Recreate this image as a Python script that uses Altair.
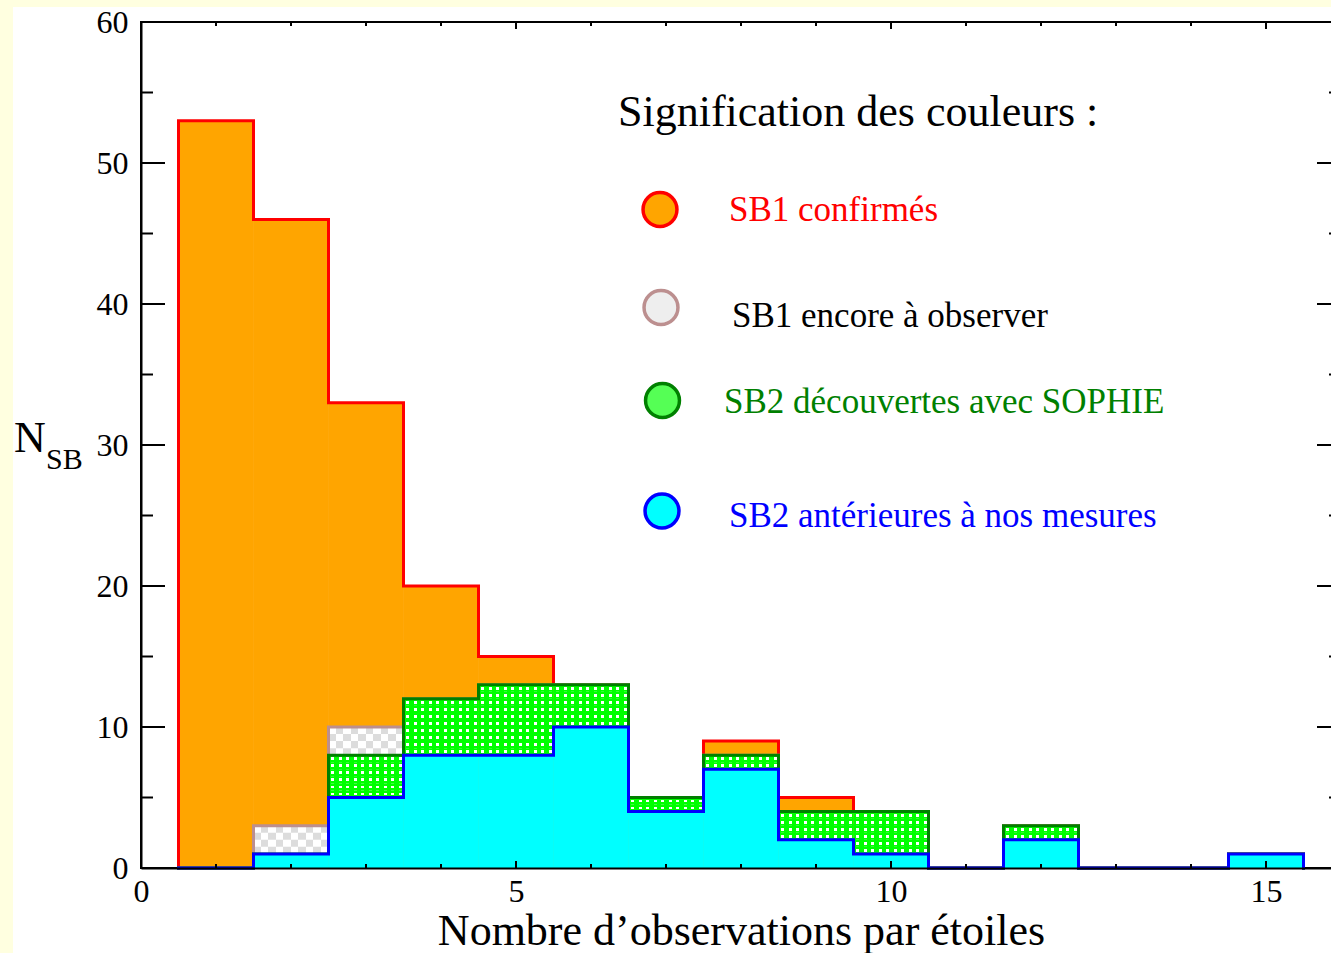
import altair as alt
import pandas as pd

# ---------------- data ----------------
bins = list(range(1, 16))                       # number of observations per star
sb2_anterieures = [0, 1, 5, 8, 8, 10, 4, 7, 2, 1, 0, 2, 0, 0, 1]   # cyan
sb2_sophie      = [0, 0, 3, 4, 5, 3, 1, 1, 2, 3, 0, 1, 0, 0, 0]    # green (dots)
sb1_a_observer  = [0, 2, 2, 0, 0, 0, 0, 0, 0, 0, 0, 0, 0, 0, 0]    # grey checker
sb1_confirmes   = [53, 43, 23, 8, 2, 0, 0, 1, 1, 0, 0, 0, 0, 0, 0] # orange

x_major = [0, 5, 10, 15]
x_minor = [1, 2, 3, 4, 6, 7, 8, 9, 11, 12, 13, 14, 16]
y_major = [0, 10, 20, 30, 40, 50, 60]
y_minor = [5, 15, 25, 35, 45, 55]

legend_title = "Signification des couleurs :"
legend_labels = ["SB1 confirmés", "SB1 encore à observer",
                 "SB2 découvertes avec SOPHIE", "SB2 antérieures à nos mesures"]
x_title = "Nombre d\u2019observations par étoiles"

# ---------------- stacking ----------------
cyan_top = list(sb2_anterieures)
green_top = [a + b for a, b in zip(cyan_top, sb2_sophie)]
gray_top = [a + b for a, b in zip(green_top, sb1_a_observer)]
orange_top = [a + b for a, b in zip(gray_top, sb1_confirmes)]

W, H = 1200, 846
FONT = "Liberation Serif"
ORANGE, RED = "#ffa500", "#ff0000"
GRAY, ROSY = "#dcdcdc", "#bc8f8f"
GREEN, DGREEN = "#00ff00", "#008000"
CYAN, BLUE = "#00ffff", "#0000ff"

xs = alt.Scale(domain=[0, 16], nice=False, zero=False)
ys = alt.Scale(domain=[0, 60], nice=False, zero=False)

XAX = alt.Axis(values=x_major, format="d", ticks=False, grid=False,
               labelFont=FONT, labelFontSize=32, labelColor="black", labelPadding=8,
               labelFlush=False, domain=True, domainColor="black", domainWidth=2,
               title=x_title, titleFont=FONT, titleFontSize=44, titleFontWeight="normal",
               titleColor="black", titlePadding=2, zindex=1)
YAX = alt.Axis(values=y_major, format="d", ticks=False, grid=False,
               labelFont=FONT, labelFontSize=32, labelColor="black", labelPadding=13,
               labelFlush=False, domain=True, domainColor="black", domainWidth=2,
               title=None, zindex=1)


def X(field):
    return alt.X(field, scale=xs, axis=XAX)


def Y(field):
    return alt.Y(field, scale=ys, axis=YAX)


def rect_df(lo, hi):
    rows = [{"x0": b - 0.5, "x1": b + 0.5, "y0": l, "y1": h}
            for b, l, h in zip(bins, lo, hi) if h > l]
    return pd.DataFrame(rows, columns=["x0", "x1", "y0", "y1"])


def half_rows(lo, hi, parity=None):
    rows = []
    for b, l, h in zip(bins, lo, hi):
        for j in range(2 * l, 2 * h):
            if parity is None or j % 2 == parity:
                rows.append({"x0": b - 0.5, "x1": b + 0.5, "y0": j / 2, "y1": (j + 1) / 2})
    return pd.DataFrame(rows, columns=["x0", "x1", "y0", "y1"])


def outline_df(top):
    px, py = [0.5], [0]
    for b, v in zip(bins, top):
        px += [b - 0.5, b + 0.5]
        py += [v, v]
    px.append(bins[-1] + 0.5)
    py.append(0)
    return pd.DataFrame({"x": px, "y": py, "i": list(range(len(px)))})


def stops_cols(c_bg, c_fg, n=10, a=0.035, b=0.075):
    st = []
    for k in range(n):
        base = k / n
        st += [(base, c_bg), (base + a, c_bg), (base + a, c_fg), (base + b, c_fg), (base + b, c_bg)]
    st.append((1.0, c_bg))
    return [alt.GradientStop(color=c, offset=round(o, 4)) for o, c in st]


def stops_checker(c1, c2, n=10):
    st = []
    for k in range(n):
        c = c1 if k % 2 == 0 else c2
        st += [(k / n, c), ((k + 1) / n, c)]
    return [alt.GradientStop(color=c, offset=round(o, 4)) for o, c in st]


green_cols = alt.Gradient(gradient="linear", stops=stops_cols(GREEN, "#ffffff"), x1=0, x2=1, y1=0, y2=0)
green_rows = alt.Gradient(gradient="linear",
                          stops=[alt.GradientStop(color=GREEN, offset=0),
                                 alt.GradientStop(color=GREEN, offset=0.3),
                                 alt.GradientStop(color="rgba(0,255,0,0)", offset=0.3),
                                 alt.GradientStop(color="rgba(0,255,0,0)", offset=0.7),
                                 alt.GradientStop(color=GREEN, offset=0.7),
                                 alt.GradientStop(color=GREEN, offset=1)],
                          x1=0, x2=0, y1=0, y2=1)
checker_a = alt.Gradient(gradient="linear", stops=stops_checker(GRAY, "#ffffff"), x1=0, x2=1, y1=0, y2=0)
checker_b = alt.Gradient(gradient="linear", stops=stops_checker("#ffffff", GRAY), x1=0, x2=1, y1=0, y2=0)


def rects(df, fill, stroke=None):
    kw = {"fill": fill, "strokeWidth": 0}
    if stroke:
        kw = {"fill": fill, "stroke": stroke, "strokeWidth": 0.6}
    return alt.Chart(df).mark_rect(**kw).encode(
        x=X("x0:Q"), x2="x1:Q", y=Y("y0:Q"), y2="y1:Q")


def outline(top, color):
    return alt.Chart(outline_df(top)).mark_line(
        color=color, strokeWidth=3, strokeJoin="miter", strokeCap="square").encode(
        x=X("x:Q"), y=Y("y:Q"), order="i:Q")


one = pd.DataFrame({"a": [0]})

# yellow border strips (page background of the original)
strip_left = alt.Chart(one).mark_rect(fill="#ffffe0").encode(
    x=alt.value(-141), x2=alt.value(-128), y=alt.value(-22), y2=alt.value(H + 85))
strip_top = alt.Chart(one).mark_rect(fill="#ffffe0").encode(
    x=alt.value(-141), x2=alt.value(W), y=alt.value(-22), y2=alt.value(-15))

layers = [
    rects(rect_df([0] * 15, orange_top), ORANGE, stroke=ORANGE),
    strip_left, strip_top,
    outline(orange_top, RED),
    rects(rect_df(green_top, gray_top), checker_a),
    rects(half_rows(green_top, gray_top, parity=1), checker_b),
    outline(gray_top, ROSY),
    rects(rect_df(cyan_top, green_top), green_cols),
    rects(half_rows(cyan_top, green_top), green_rows),
    outline(green_top, DGREEN),
    rects(rect_df([0] * 15, cyan_top), CYAN, stroke=CYAN),
    outline(cyan_top, BLUE),
]


# ticks (inward, on all four sides)
def xticks(vals, length):
    d = pd.DataFrame({"v": vals})
    bot = alt.Chart(d).mark_rule(color="black", strokeWidth=2).encode(
        x=X("v:Q"), y=alt.value(H), y2=alt.value(H - length))
    top = alt.Chart(d).mark_rule(color="black", strokeWidth=2).encode(
        x=X("v:Q"), y=alt.value(0), y2=alt.value(length))
    return [bot, top]


def yticks(vals, length):
    d = pd.DataFrame({"v": vals})
    left = alt.Chart(d).mark_rule(color="black", strokeWidth=2).encode(
        y=Y("v:Q"), x=alt.value(0), x2=alt.value(length))
    right = alt.Chart(d).mark_rule(color="black", strokeWidth=2).encode(
        y=Y("v:Q"), x=alt.value(W), x2=alt.value(W - length))
    return [left, right]


layers += xticks(x_major, 7) + xticks(x_minor, 4) + yticks(y_major, 24) + yticks(y_minor, 12)

# y title N_SB
layers.append(alt.Chart(one).mark_text(text="N", font=FONT, fontSize=44, align="left",
                                       baseline="alphabetic", color="black").encode(
    x=alt.value(-127), y=alt.value(430)))
layers.append(alt.Chart(one).mark_text(text="SB", font=FONT, fontSize=30, align="left",
                                       baseline="alphabetic", color="black").encode(
    x=alt.value(-95), y=alt.value(447)))

# legend
layers.append(alt.Chart(one).mark_text(text=legend_title, font=FONT, fontSize=44, align="left",
                                       baseline="alphabetic", color="black").encode(
    x=alt.value(477), y=alt.value(104)))

leg_sym = [(519, 187.5, ORANGE, RED), (520, 285.5, "#eeeeee", ROSY),
           (521.5, 378.5, "#55ff55", DGREEN), (521, 489, CYAN, BLUE)]
leg_txt = [(588, 199, RED), (591, 305, "black"), (583, 391, DGREEN), (588, 505, BLUE)]
for (sx, sy, f, s), (tx, ty, tc), lab in zip(leg_sym, leg_txt, legend_labels):
    layers.append(alt.Chart(one).mark_point(shape="circle", size=1150, filled=True, fill=f,
                                            stroke=s, strokeWidth=3.5, opacity=1).encode(
        x=alt.value(sx), y=alt.value(sy)))
    layers.append(alt.Chart(one).mark_text(text=lab, font=FONT, fontSize=35, align="left",
                                           baseline="alphabetic", color=tc).encode(
        x=alt.value(tx), y=alt.value(ty)))

chart = alt.layer(*layers).properties(
    width=W, height=H,
    autosize=alt.AutoSizeParams(type="none"),
    padding={"left": 141, "top": 22, "right": -10, "bottom": 85},
    background="white",
).configure_view(stroke="black", strokeWidth=2)

chart.save("out.html", embed_options={"renderer": "svg", "actions": False})
